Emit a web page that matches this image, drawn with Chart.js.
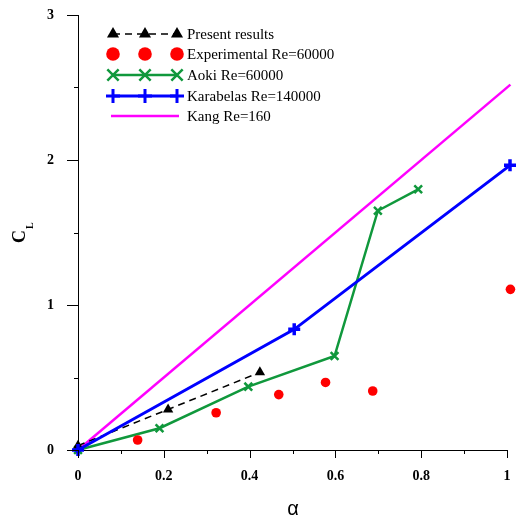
<!DOCTYPE html>
<html>
<head>
<meta charset="utf-8">
<script src="https://cdn.jsdelivr.net/npm/chart.js@4.4.0/dist/chart.umd.min.js"></script>
<style>
  body { margin: 0; background: #fff; }
  #wrap { width: 526px; height: 520px; }
</style>
</head>
<body>
<div id="wrap"><canvas id="clChart"></canvas></div>
<script>
// values
const presentAlpha = [0, 0.21, 0.424];
const presentCL = [0.03, 0.28, 0.536];
const expAlpha = [0.139, 0.322, 0.468, 0.577, 0.687, 1.008];
const expCL = [0.069, 0.257, 0.382, 0.466, 0.407, 1.108];
const aokiAlpha = [0, 0.19, 0.397, 0.598, 0.699, 0.793];
const aokiCL = [0, 0.15, 0.437, 0.648, 1.65, 1.798];
const karaAlpha = [0, 0.504, 1.007];
const karaCL = [0, 0.832, 1.963];
const kangAlpha = [0, 1.008];
const kangCL = [0, 2.52];
const xTickLabels = [0, 0.2, 0.4, 0.6, 0.8, 1];
const yTickLabels = [0, 1, 2, 3];

const seriesNames = [
  "Present results",
  "Experimental Re=60000",
  "Aoki Re=60000",
  "Karabelas Re=140000",
  "Kang Re=160",
];

const green = "#10983c";
const serif = '"Liberation Serif", "Times New Roman", serif';

function toPoints(xs, ys) {
  return xs.map((x, i) => ({ x: x, y: ys[i] }));
}

function near(v, list) {
  return list.some((t) => Math.abs(t - v) < 1e-6);
}

// tick marks, tick labels, legend and axis titles
const decorations = {
  id: "decorations",
  afterDraw(chart) {
    const ctx = chart.ctx;
    const xs = chart.scales.x;
    const ys = chart.scales.y;
    const area = chart.chartArea;
    ctx.save();
    ctx.strokeStyle = "#000";
    ctx.lineWidth = 1;
    ctx.beginPath();
    for (let i = 0; i <= 10; i++) {
      const v = i / 10;
      const px = Math.round(xs.getPixelForValue(v)) + 0.5;
      const len = near(v, xTickLabels) ? 8 : 4;
      ctx.moveTo(px, area.bottom);
      ctx.lineTo(px, area.bottom + len);
    }
    for (let i = 0; i <= 6; i++) {
      const v = i / 2;
      const py = Math.round(ys.getPixelForValue(v)) + 0.5;
      const len = near(v, yTickLabels) ? 11 : 4;
      ctx.moveTo(area.left, py);
      ctx.lineTo(area.left - len, py);
    }
    ctx.stroke();

    // tick labels
    ctx.fillStyle = "#000";
    ctx.font = "bold 14px " + serif;
    ctx.textBaseline = "middle";
    ctx.textAlign = "center";
    xTickLabels.forEach((v) => {
      ctx.fillText(String(v), xs.getPixelForValue(v), area.bottom + 26);
    });
    ctx.textAlign = "right";
    yTickLabels.forEach((v) => {
      ctx.fillText(String(v), area.left - 24, ys.getPixelForValue(v));
    });

    // C_L title
    ctx.save();
    ctx.translate(25, 243);
    ctx.rotate(-Math.PI / 2);
    ctx.textBaseline = "alphabetic";
    ctx.textAlign = "left";
    ctx.font = "bold 18px " + serif;
    ctx.fillText("C", 0, 0);
    const cw = ctx.measureText("C").width;
    ctx.font = "bold 10px " + serif;
    ctx.fillText("L", cw + 1, 8);
    ctx.restore();

    // alpha title
    ctx.font = '20px "Liberation Sans", sans-serif';
    ctx.textAlign = "center";
    ctx.textBaseline = "alphabetic";
    ctx.fillText("α", 293, 515);

    // legend
    const rowY = [34, 54, 75, 96, 116];
    const mx = [113, 145, 177];
    ctx.font = "15px " + serif;
    ctx.textAlign = "left";
    ctx.textBaseline = "middle";
    chart.data.datasets.forEach((ds, i) => {
      const y = rowY[i];
      ctx.save();
      if (ds.showLine) {
        ctx.strokeStyle = ds.borderColor;
        ctx.lineWidth = ds.borderWidth;
        ctx.setLineDash(ds.borderDash || []);
        ctx.beginPath();
        ctx.moveTo(i === 4 ? 111 : mx[0], y);
        ctx.lineTo(i === 4 ? 179 : mx[2], y);
        ctx.stroke();
        ctx.setLineDash([]);
      }
      if (ds.pointRadius > 0) {
        ctx.fillStyle = ds.pointBackgroundColor;
        ctx.strokeStyle = ds.pointBorderColor;
        mx.forEach((x) => {
          Chart.helpers.drawPoint(ctx, {
            pointStyle: ds.pointStyle,
            radius: ds.legendRadius,
            rotation: 0,
            borderWidth: ds.pointBorderWidth,
          }, x, y);
        });
      }
      ctx.restore();
      ctx.fillStyle = "#000";
      ctx.fillText(ds.label, 187, y + 1);
    });
    ctx.restore();
  },
};

new Chart(document.getElementById("clChart"), {
  type: "scatter",
  data: {
    datasets: [
      {
        label: seriesNames[0],
        data: toPoints(presentAlpha, presentCL),
        showLine: true,
        borderColor: "#000",
        borderWidth: 1.5,
        borderDash: [7, 5],
        pointStyle: "triangle",
        pointRadius: 6,
        legendRadius: 7,
        pointBackgroundColor: "#000",
        pointBorderColor: "#000",
        pointBorderWidth: 0,
        clip: false,
        order: 2,
      },
      {
        label: seriesNames[1],
        data: toPoints(expAlpha, expCL),
        showLine: false,
        pointStyle: "circle",
        pointRadius: 4.8,
        legendRadius: 6.8,
        pointBackgroundColor: "#ff0000",
        pointBorderColor: "#ff0000",
        pointBorderWidth: 0,
        clip: false,
        order: 1,
      },
      {
        label: seriesNames[2],
        data: toPoints(aokiAlpha, aokiCL),
        showLine: true,
        borderColor: green,
        borderWidth: 2.5,
        pointStyle: "crossRot",
        pointRadius: 5.5,
        legendRadius: 8,
        pointBackgroundColor: green,
        pointBorderColor: green,
        pointBorderWidth: 2.5,
        clip: false,
        order: 4,
      },
      {
        label: seriesNames[3],
        data: toPoints(karaAlpha, karaCL),
        showLine: true,
        borderColor: "#0000ff",
        borderWidth: 3,
        pointStyle: "cross",
        pointRadius: 6,
        legendRadius: 7,
        pointBackgroundColor: "#0000ff",
        pointBorderColor: "#0000ff",
        pointBorderWidth: 3.5,
        clip: false,
        order: 0,
      },
      {
        label: seriesNames[4],
        data: toPoints(kangAlpha, kangCL),
        showLine: true,
        borderColor: "#ff00ff",
        borderWidth: 2.5,
        pointRadius: 0,
        legendRadius: 0,
        clip: false,
        order: 5,
      },
    ],
  },
  options: {
    responsive: true,
    maintainAspectRatio: false,
    animation: false,
    layout: { padding: { top: 15, right: 19, left: 0, bottom: 0 } },
    plugins: {
      legend: { display: false },
      tooltip: { enabled: false },
    },
    scales: {
      x: {
        type: "linear",
        min: 0,
        max: 1,
        afterFit: (scale) => { scale.height = 70; },
        grid: { display: false },
        border: { display: true, color: "#000", width: 1 },
        ticks: { display: false, stepSize: 0.2 },
      },
      y: {
        type: "linear",
        min: 0,
        max: 3,
        afterFit: (scale) => { scale.width = 78; },
        grid: { display: false },
        border: { display: true, color: "#000", width: 1 },
        ticks: { display: false, stepSize: 1 },
      },
    },
  },
  plugins: [decorations],
});
</script>
</body>
</html>
